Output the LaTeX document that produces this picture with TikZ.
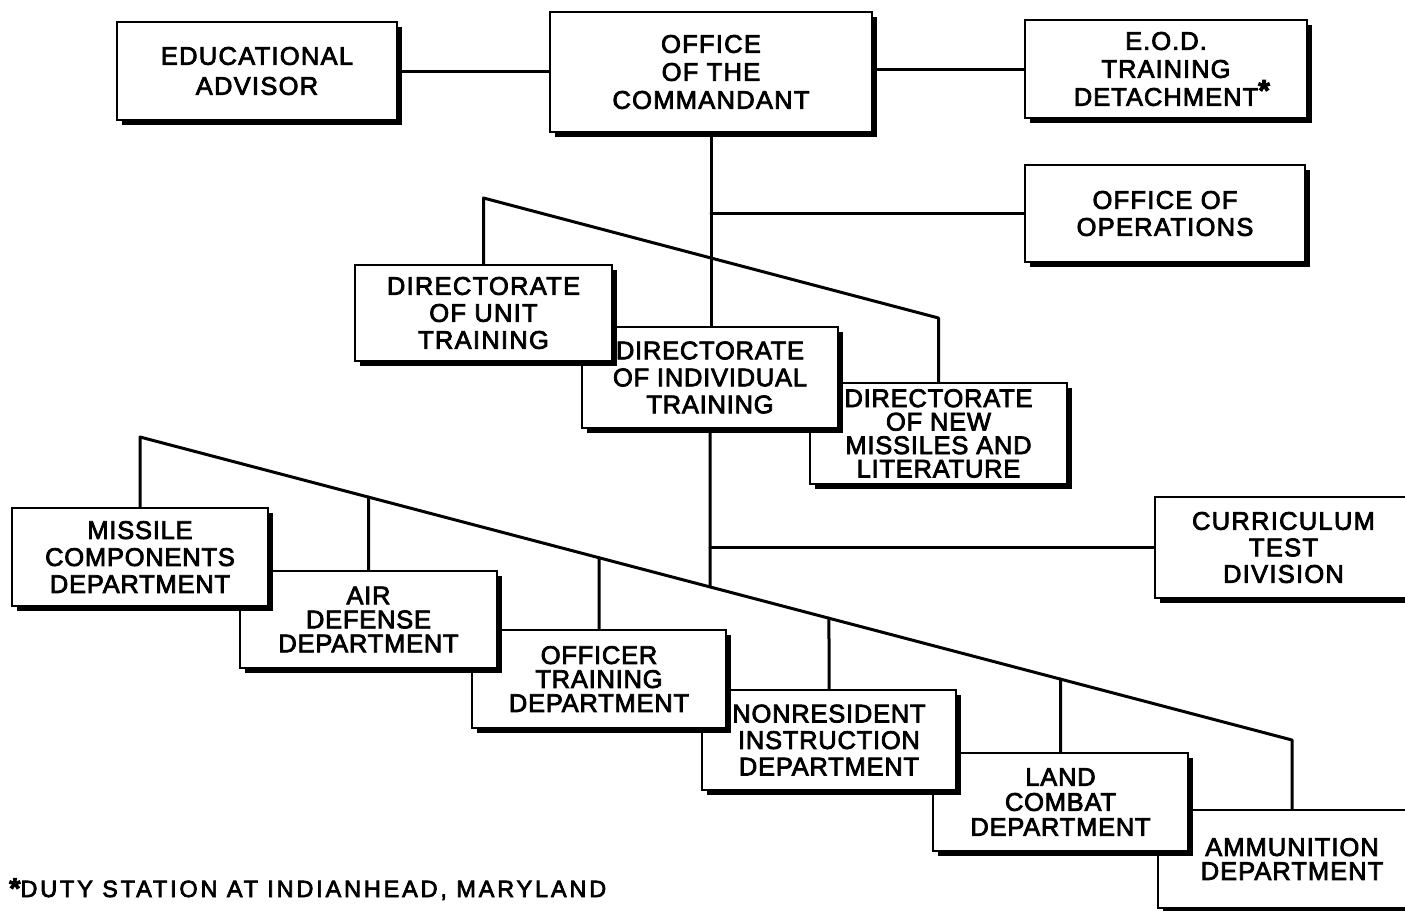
\documentclass[tikz,border=0pt]{standalone}
\usepackage{fontspec}
\setmainfont{Liberation Sans}[FakeBold=3, LetterSpace=3]
\usetikzlibrary{shadows}
\pgfdeclarelayer{paper}
\pgfdeclarelayer{wires}
\pgfsetlayers{paper,wires,main}

\tikzset{
  orgbox/.style={draw=black, fill=white, line width=2.2pt, rectangle,
    inner sep=0pt, align=center,
    font=\fontsize{25.5}{26.5}\selectfont,
    drop shadow={shadow xshift=5pt, shadow yshift=-5pt, fill=black, opacity=1}},
  wire/.style={line width=3pt, line cap=round, line join=round},
}

\begin{document}
\begin{tikzpicture}[x=1pt, y=-1pt]
\begin{pgfonlayer}{paper}
  \fill[white] (0,0) rectangle (1405,910);
\end{pgfonlayer}
\useasboundingbox (0,0) rectangle (1405,910);
\clip (0,0) rectangle (1405,910);

% top row
\node[orgbox, minimum width=280pt, minimum height=98pt,
  font=\fontsize{25.5}{30}\selectfont\addfontfeature{LetterSpace=5}] (EA) at (257,71)
  {EDUCATIONAL\\ADVISOR};
\node[orgbox, minimum width=322pt, minimum height=120pt,
  font=\fontsize{25.5}{28}\selectfont\addfontfeature{LetterSpace=5}] (OC) at (711,72)
  {OFFICE\\OF THE\\COMMANDANT};
\node[orgbox, minimum width=282pt, minimum height=98pt,
  font=\fontsize{25.5}{28}\selectfont\addfontfeature{LetterSpace=4}] (EOD) at (1166,69)
  {E.O.D.\\TRAINING\\DETACHMENT\rlap{\raisebox{0.2em}{\fontsize{30}{30}\selectfont\bfseries *}}};
\node[orgbox, minimum width=280pt, minimum height=97pt,
  font=\fontsize{25.5}{27}\selectfont\addfontfeature{LetterSpace=5}] (OO) at (1165,213.5)
  {OFFICE OF\\OPERATIONS};

% directorates (later ones lie beneath earlier ones)
\node[orgbox, minimum width=257pt, minimum height=101pt,
  font=\fontsize{25.5}{23.5}\selectfont] (DNM) at (938.5,433.5)
  {DIRECTORATE\\OF NEW\\MISSILES AND\\LITERATURE};
\node[orgbox, minimum width=256pt, minimum height=101pt,
  font=\fontsize{25.5}{27}\selectfont] (DIT) at (710,377.5)
  {DIRECTORATE\\OF INDIVIDUAL\\TRAINING};
\node[orgbox, minimum width=257pt, minimum height=96pt,
  font=\fontsize{25.5}{27}\selectfont\addfontfeature{LetterSpace=5}] (DUT) at (483.5,313)
  {DIRECTORATE\\OF UNIT\\TRAINING};

\node[orgbox, minimum width=257pt, minimum height=101pt,
  font=\fontsize{25.5}{26.5}\selectfont\addfontfeature{LetterSpace=5}] (CTD) at (1283.5,547.5)
  {CURRICULUM\\TEST\\DIVISION};

% departments
\node[orgbox, minimum width=268pt, minimum height=98pt,
  font=\fontsize{25.5}{24}\selectfont\addfontfeature{LetterSpace=4}] (AMD) at (1292,859)
  {AMMUNITION\\DEPARTMENT};
\node[orgbox, minimum width=255pt, minimum height=98pt,
  font=\fontsize{25.5}{25}\selectfont] (LCD) at (1060.5,802)
  {LAND\\COMBAT\\DEPARTMENT};
\node[orgbox, minimum width=254pt, minimum height=100pt] (NID) at (829,740)
  {NONRESIDENT\\INSTRUCTION\\DEPARTMENT};
\node[orgbox, minimum width=254pt, minimum height=98pt,
  font=\fontsize{25.5}{24}\selectfont] (OTD) at (599,679)
  {OFFICER\\TRAINING\\DEPARTMENT};
\node[orgbox, minimum width=257pt, minimum height=97pt,
  font=\fontsize{25.5}{24}\selectfont] (ADD) at (368.5,619.5)
  {AIR\\DEFENSE\\DEPARTMENT};
\node[orgbox, minimum width=256pt, minimum height=98pt,
  font=\fontsize{25.5}{27}\selectfont] (MCD) at (140,557)
  {MISSILE\\COMPONENTS\\DEPARTMENT};

% slanted bus lines
\coordinate (us) at (DUT.north |- 0,198);
\coordinate (ue) at (DNM.north |- 0,318);
\coordinate (ls) at (MCD.north |- 0,437);
\coordinate (le) at (AMD.north |- 0,740);

\node[anchor=base west, inner sep=0pt,
  font=\fontsize{23.5}{23.5}\selectfont\addfontfeature{LetterSpace=12}] (note) at (9,897)
  {\raisebox{-0.05em}{\fontsize{29}{29}\selectfont\bfseries *}DUTY STATION AT INDIANHEAD, MARYLAND};

\begin{pgfonlayer}{wires}
  \draw[wire] (EA.east) -- (EA.east -| OC.west);
  \draw[wire] (EOD.west -| OC.east) -- (EOD.west);
  \draw[wire] (OC.south) -- (OC.south |- DIT.north);
  \draw[wire] (OO.west) -- (OO.west -| OC.south);
  \draw[wire] (DIT.south) -- (intersection of ls--le and DIT.south--DIT.center);
  \draw[wire] (CTD.west) -- (CTD.west -| DIT.south);
  \draw[wire] (DUT.north) -- (us) -- (ue) -- (DNM.north);
  \draw[wire] (MCD.north) -- (ls) -- (le) -- (AMD.north);
  \draw[wire] (ADD.north) -- (intersection of ls--le and ADD.north--ADD.center);
  \draw[wire] (OTD.north) -- (intersection of ls--le and OTD.north--OTD.center);
  \draw[wire] (NID.north) -- (intersection of ls--le and NID.north--NID.center);
  \draw[wire] (LCD.north) -- (intersection of ls--le and LCD.north--LCD.center);
\end{pgfonlayer}
\end{tikzpicture}
\end{document}
